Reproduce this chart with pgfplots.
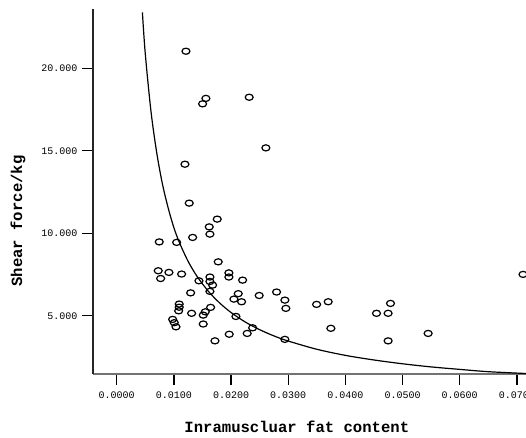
\documentclass[border=0pt]{standalone}
\usepackage{fontspec}
\setmainfont{Liberation Mono}
\usepackage{pgfplots}
\pgfplotsset{compat=1.18}

\begin{document}
\begin{tikzpicture}
\begin{axis}[
    at={(0,0)}, anchor=south west,
    scale only axis,
    width=324.75pt, height=273.75pt,
    xmin=-0.00414, xmax=0.0716,
    ymin=1.47, ymax=23.6,
    axis lines=left,
    axis line style={-},
    x axis line style={black!55, line width=1.3pt},
    y axis line style={black!85, line width=0.8pt},
    tick align=outside,
    major tick length=8.25pt,
    xtick={0,0.01,0.02,0.03,0.04,0.05,0.06,0.07},
    ytick={5,10,15,20},
    x tick style={black, line width=1pt},
    y tick style={black, line width=0.7pt},
    scaled x ticks=false, scaled y ticks=false,
    xticklabel style={yshift=-1.5pt, /pgf/number format/.cd, fixed, fixed zerofill, precision=4, assume math mode=true},
    yticklabel style={/pgf/number format/.cd, fixed, fixed zerofill, precision=3, assume math mode=true},
    tick label style={font=\fontsize{7.5}{9}\selectfont},
    xlabel={Inramuscluar fat content},
    ylabel={Shear force/kg},
    label style={font=\fontsize{11.7}{14}\selectfont\bfseries},
    xlabel style={at={(axis description cs:0.4707,-0.145)}, anchor=center},
    ylabel style={at={(axis description cs:-0.173,0.419)}, anchor=center},
    clip=false,
]
% fitted curve
\addplot[black, line width=0.9pt, smooth, no markers] coordinates {
    (0.0045,23.4) (0.0050,20.9) (0.0060,17.4) (0.0070,14.9) (0.0080,13.0)
    (0.0090,11.55) (0.0100,10.35) (0.0110,9.42) (0.0125,8.3) (0.0140,7.42)
    (0.0160,6.5) (0.0180,5.78) (0.0200,5.2) (0.0225,4.62) (0.0250,4.16)
    (0.0275,3.78) (0.0300,3.47) (0.0350,2.97) (0.0400,2.6) (0.0450,2.32)
    (0.0500,2.09) (0.0550,1.9) (0.0600,1.75) (0.0650,1.61) (0.0716,1.5)
};
% observations
\addplot[only marks, mark=o, mark size=2.3pt,
         mark options={xscale=1.3, line width=0.9pt, black}] coordinates {
    (0.01212,21.04) (0.01503,17.85) (0.01561,18.18) (0.02318,18.25)
    (0.02610,15.18) (0.01194,14.19) (0.01269,11.83) (0.01759,10.86)
    (0.01619,10.39) (0.01631,9.95) (0.01329,9.75) (0.00745,9.48)
    (0.01049,9.45) (0.01776,8.27) (0.00727,7.73) (0.00769,7.26)
    (0.00914,7.63) (0.01136,7.53) (0.01439,7.12) (0.01631,7.35)
    (0.01631,7.08) (0.01678,6.86) (0.01963,7.60) (0.01963,7.35)
    (0.02203,7.16) (0.01294,6.39) (0.01631,6.48) (0.01094,5.71)
    (0.01084,5.30) (0.01094,5.52) (0.01311,5.15) (0.01643,5.51)
    (0.01550,5.24) (0.01514,5.04) (0.00979,4.78) (0.01007,4.58)
    (0.01037,4.33) (0.01514,4.50) (0.01719,3.48) (0.02126,6.34)
    (0.02051,6.01) (0.02185,5.85) (0.02493,6.23) (0.02797,6.44)
    (0.02942,5.95) (0.02960,5.45) (0.02086,4.96) (0.01969,3.88)
    (0.02283,3.93) (0.02378,4.27) (0.02942,3.57) (0.03497,5.69)
    (0.03700,5.85) (0.03747,4.24) (0.04545,5.15) (0.04748,5.15)
    (0.04790,5.75) (0.04748,3.48) (0.05448,3.93) (0.07108,7.51)
};
\end{axis}
\pgfresetboundingbox
\useasboundingbox (-69.75pt,-47.25pt) rectangle (324.75pt,280.5pt);
\end{tikzpicture}
\end{document}
